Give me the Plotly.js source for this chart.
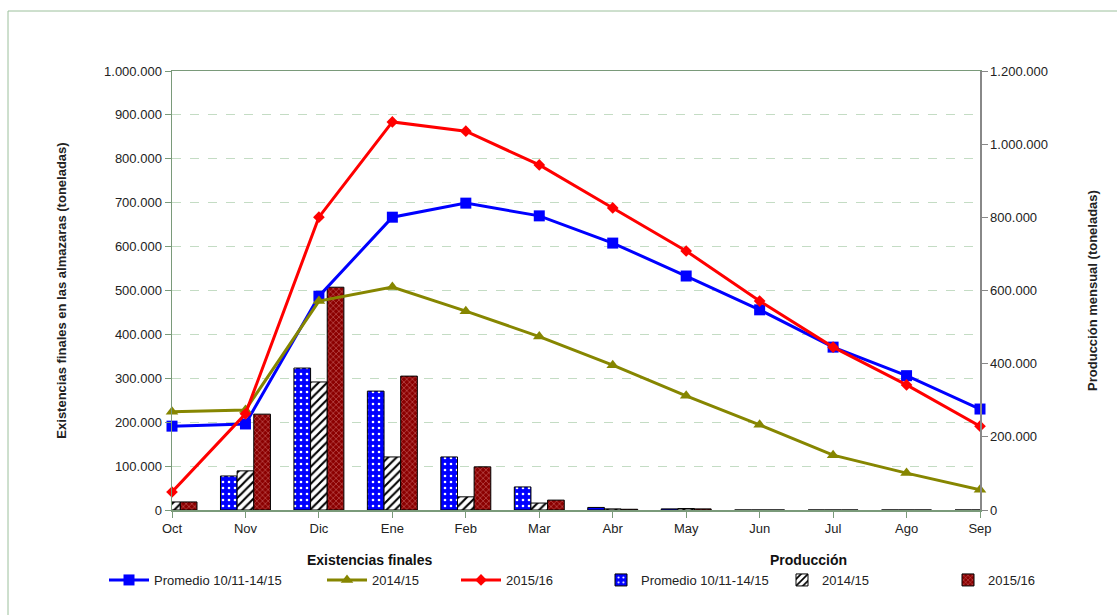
<!DOCTYPE html>
<html>
<head>
<meta charset="utf-8">
<script src="https://cdn.plot.ly/plotly-3.0.1.min.js"></script>
<style>html,body{margin:0;padding:0;background:#fff;}#chart{width:1117px;height:615px;}</style>
</head>
<body>
<div id="chart"></div>
<script>
// Categories (months of the campaign)
const months = ['Oct','Nov','Dic','Ene','Feb','Mar','Abr','May','Jun','Jul','Ago','Sep'];

// Existencias finales (toneladas) - left axis, lines
const exPromedio = [191000,196000,487000,667000,699000,670000,608000,533000,456000,371000,306000,230000];
const ex1415 = [224000,228000,476000,508000,453000,395000,330000,260000,194000,125000,84000,46000];
const ex1516 = [41000,219000,667000,884000,863000,786000,688000,590000,476000,371000,285000,191000];

// Producción mensual (toneladas) - right axis, bars
const prPromedio = [20000,93000,388000,325000,145000,63000,7000,3000,0,0,0,0];
const pr1415 = [22000,107000,350000,145000,36000,19000,3000,4000,0,0,0,0];
const pr1516 = [22000,262000,609000,366000,118000,27000,2000,3000,0,0,0,0];

const seriesNames = ['Promedio 10/11-14/15','2014/15','2015/16'];
const groupTitles = ['Existencias finales','Producción'];

// layout geometry helpers (pixels -> paper)
const L = 172, R = 980, T = 71, B = 510;
const px = p => (p - L) / (R - L);
const py = p => (B - p) / (B - T);

const lineColors = ['#0000ff','#868600','#ff0000'];
const lineSymbols = ['square','triangle-up','diamond'];
const lineSizes = [11,11,9];
const lineData = [exPromedio, ex1415, ex1516];
const barData = [prPromedio, pr1415, pr1516];
const legendIds = ['legend2','legend3','legend4','legend5','legend6','legend7'];
const legendX = [104, 322, 456, 601, 782, 948];

const traces = [];
// bars first (main y axis, right side)
const barStyles = [
  {color:'#0000ff', pattern:{shape:'.', fgcolor:'#ffffff', bgcolor:'#0000ff', size:6, solidity:0.15}},
  {color:'#ffffff', pattern:{shape:'/', fgcolor:'#000000', bgcolor:'#ffffff', size:6, solidity:0.35}},
  {color:'#8b0000', pattern:{shape:'x', fgcolor:'#e08a8a', bgcolor:'#8b0000', size:4, solidity:0.2}}
];
for (let i = 0; i < 3; i++) {
  traces.push({
    type:'bar', x: months, y: barData[i], name: seriesNames[i], yaxis:'y',
    legend: legendIds[3+i],
    marker:{color: barStyles[i].color, pattern: barStyles[i].pattern, line:{color:'#000000', width:1}},
    hoverinfo:'skip'
  });
}
for (let i = 0; i < 3; i++) {
  traces.push({
    type:'scatter', mode:'lines+markers', x: months, y: lineData[i], name: seriesNames[i], yaxis:'y2',
    legend: legendIds[i],
    line:{color: lineColors[i], width:3},
    marker:{symbol: lineSymbols[i], size: lineSizes[i], color: lineColors[i]},
    cliponaxis:false, hoverinfo:'skip'
  });
}

const font = {family:'"Liberation Sans", Arial, sans-serif', size:13, color:'#222'};
const layout = {
  width:1117, height:615,
  margin:{l:L, r:1117-R, t:T, b:615-B},
  paper_bgcolor:'#ffffff', plot_bgcolor:'rgba(0,0,0,0)',
  separators:',.',
  font: font,
  showlegend:true,
  barmode:'group', bargap:0.32, bargroupgap:0,
  xaxis:{
    type:'category', range:[0,11], showgrid:false, zeroline:false,
    showline:true, linecolor:'#7a9a7a', linewidth:1.5, mirror:true,
    ticks:'outside', ticklen:6, tickcolor:'#7a9a7a', tickfont:{size:13, color:'#222'},
    fixedrange:true
  },
  yaxis:{
    side:'right', range:[0,1200000], dtick:200000, tickformat:',d',
    showgrid:false, zeroline:false, showline:true, linecolor:'#888888', linewidth:1.5,
    ticks:'outside', ticklen:6, tickcolor:'#888888', tickfont:{size:13, color:'#222'},
    title:{text:'Producción mensual (toneladas)', font:{size:13, weight:'bold', color:'#222'}, standoff:41}
  },
  yaxis2:{
    overlaying:'y', side:'left', range:[0,1000000], dtick:100000, tickformat:',d',
    showgrid:true, gridcolor:'#c4dcc4', griddash:'dash', gridwidth:1,
    zeroline:false, showline:true, linecolor:'#7a9a7a', linewidth:1.5,
    ticks:'outside', ticklen:6, tickcolor:'#7a9a7a', tickfont:{size:13, color:'#222'},
    title:{text:'Existencias finales en las almazaras (toneladas)', font:{size:13, weight:'bold', color:'#222'}, standoff:34}
  },
  shapes:[{
    type:'rect', xref:'paper', yref:'paper',
    x0:px(8), x1:px(1125), y0:py(625), y1:py(11),
    line:{color:'#9cc09c', width:1}, fillcolor:'rgba(0,0,0,0)', layer:'below'
  }],
  annotations:[
    {text:groupTitles[0], xref:'paper', yref:'paper', x:px(370), y:py(560), xanchor:'center', yanchor:'middle', showarrow:false, font:{size:14, weight:'bold', color:'#111'}},
    {text:groupTitles[1], xref:'paper', yref:'paper', x:px(808), y:py(560), xanchor:'center', yanchor:'middle', showarrow:false, font:{size:14, weight:'bold', color:'#111'}}
  ]
};
legendIds.forEach((id, k) => {
  layout[id] = {
    x: px(legendX[k]), y: py(580), xanchor:'left', yanchor:'middle',
    orientation:'h', bgcolor:'rgba(0,0,0,0)', borderwidth:0,
    itemwidth: k < 3 ? 40 : 30,
    font:{size:13, color:'#222'}, itemclick:false, itemdoubleclick:false
  };
});

Plotly.newPlot('chart', traces, layout, {staticPlot:true, displayModeBar:false});
</script>
</body>
</html>
